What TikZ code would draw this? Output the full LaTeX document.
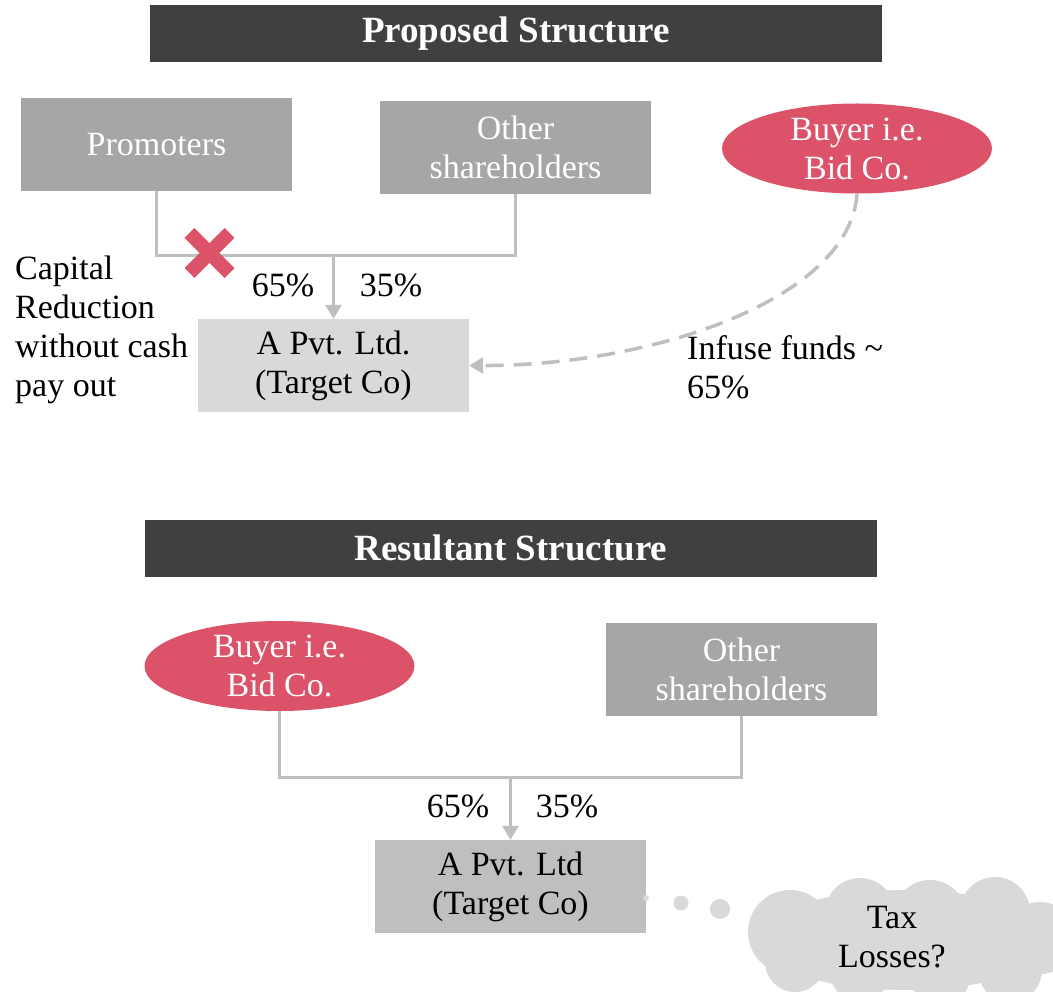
\documentclass[tikz,border=0pt]{standalone}
\usepackage{fontspec}
\setmainfont{Liberation Serif}
\usetikzlibrary{arrows.meta,shapes.geometric}
\definecolor{barc}{HTML}{404040}
\definecolor{boxc}{HTML}{A6A6A6}
\definecolor{lightc}{HTML}{D9D9D9}
\definecolor{midc}{HTML}{BFBFBF}
\definecolor{pinkc}{HTML}{DC5269}
\definecolor{linec}{HTML}{BFBFBF}
\begin{document}
\begin{tikzpicture}[x=1pt,y=-1pt,
  txt/.style={font=\fontsize{34}{39}\selectfont, align=center, inner sep=0pt},
  titlebar/.style={fill=barc, text=white, font=\bfseries\fontsize{37}{39}\selectfont, minimum width=732pt, minimum height=57pt, inner sep=0pt},
  graybox/.style={txt, fill=boxc, text=white, minimum width=271pt, minimum height=93pt},
  tgtbox/.style={txt, fill=lightc, text=black, minimum width=271pt, minimum height=93pt},
  buyer/.style={txt, ellipse, fill=pinkc, text=white, minimum width=270pt, minimum height=90pt},
  conn/.style={draw=linec, line width=3pt},
  arr/.style={conn, -{Triangle[width=16pt,length=14pt]}},
  lbl/.style={txt, text=black},
  dotc/.style={fill=lightc, draw=none}
]
\useasboundingbox (0,0) rectangle (1053,992);

% ---------- Proposed structure ----------
\node[titlebar] (t1) at (516,33.5) {Proposed Structure};
\node[graybox] (prom) at (156.5,144.5) {Promoters};
\node[graybox] (oth) at (515.5,147.5) {Other\\shareholders};
\node[buyer] (buy) at (857,148.5) {Buyer i.e.\\Bid Co.};
\node[tgtbox] (tgt) at (333.5,365.5) {A Pvt. Ltd.\\(Target Co)};

\coordinate (j1) at (333.5,256);
\draw[conn] (prom.south) -- (prom.south |- j1) -- (oth.south |- j1) -- (oth.south);
\draw[arr] (j1) -- (tgt.north);

\node[inner sep=0pt, minimum size=50pt] (cross) at (209.5,253) {};
\draw[pinkc, line width=14pt] ([shift={(-20,-20)}]cross.center) -- ([shift={(20,20)}]cross.center);
\draw[pinkc, line width=14pt] ([shift={(-20,20)}]cross.center) -- ([shift={(20,-20)}]cross.center);

\node[lbl] (p65) at (283,285) {65\%};
\node[lbl] (p35) at (391,285) {35\%};
\node[lbl, align=left, anchor=west] (cap) at (15,330) {Capital\\Reduction\\without cash\\pay out};
\node[lbl, align=left, anchor=west] (inf) at (687,367) {Infuse funds \textasciitilde\\65\%};

\draw[conn, line width=3.5pt, dash pattern=on 18pt off 10pt, -{Triangle[width=16pt,length=14pt]}]
  (buy.south) .. controls (850,300) and (650,366) .. (tgt.east);

% ---------- Resultant structure ----------
\node[titlebar] (t2) at (511,548) {Resultant Structure};
\node[buyer] (buy2) at (279.5,666) {Buyer i.e.\\Bid Co.};
\node[graybox] (oth2) at (741.5,669) {Other\\shareholders};
\node[tgtbox, fill=midc] (tgt2) at (510.5,886.5) {A Pvt. Ltd\\(Target Co)};

\coordinate (j2) at (510.5,777);
\draw[conn] (buy2.south) -- (buy2.south |- j2) -- (oth2.south |- j2) -- (oth2.south);
\draw[arr] (j2) -- (tgt2.north);

\node[lbl] (q65) at (458,806) {65\%};
\node[lbl] (q35) at (567,806) {35\%};

% thought dots
\fill[dotc] (646,898) circle (3);
\fill[dotc] (681,903) circle (7.5);
\fill[dotc] (720,909) circle (10);

% cloud
\begin{scope}
\clip (0,0) rectangle (1053,992);
\fill[lightc] (905,940) ellipse (148 and 50);
\foreach \cx/\cy/\r in {790/932/42, 860/913/35, 930/916/36, 995/912/35, 1040/938/36, 795/962/30, 860/972/30, 940/976/30, 1010/970/32}
  \fill[lightc] (\cx,\cy) circle (\r);
\end{scope}
\node[lbl] (tax) at (892,937) {Tax\\Losses?};
\end{tikzpicture}
\end{document}
